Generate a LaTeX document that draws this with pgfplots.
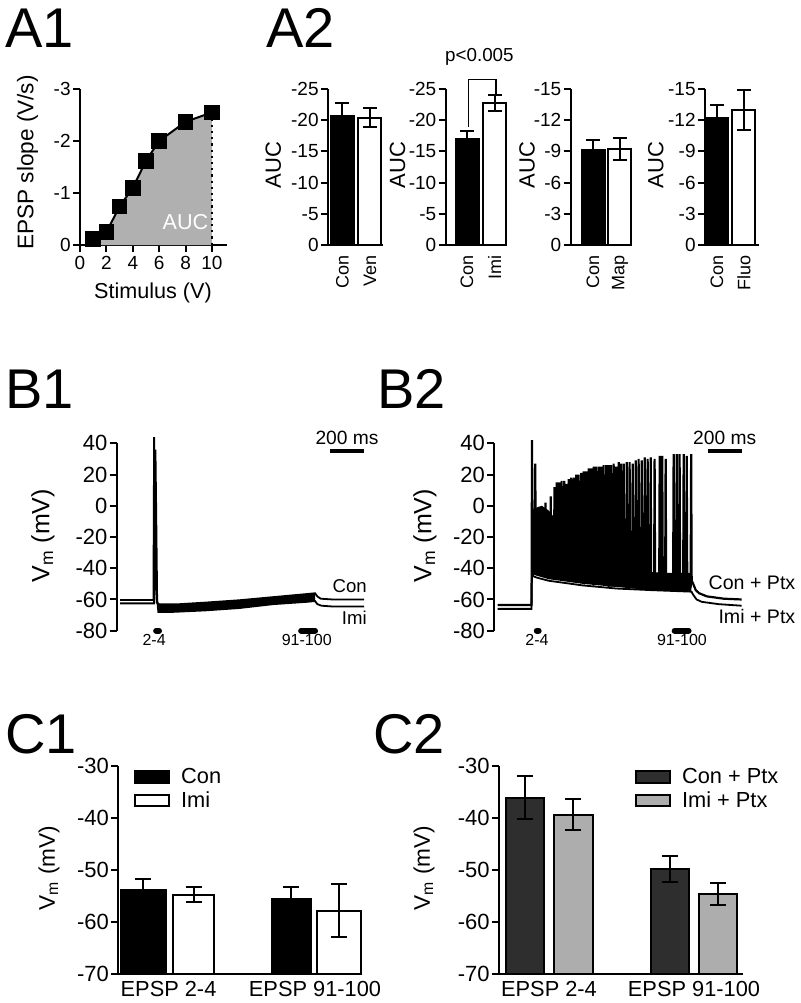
\documentclass[border=0pt]{standalone}
\usepackage{fontspec}
\setmainfont{Liberation Sans}
\usepackage{pgfplots}
\pgfplotsset{compat=1.18}
\pgfplotsset{
  base/.style={scale only axis, clip=false, anchor=south west,
    axis line style={line width=1pt,-}, tick style={line width=1pt, black},
    tick align=outside, major tick length=3.5pt,
    yticklabel style={inner sep=1pt},
    /pgf/number format/assume math mode=true},
  blackbar/.style={ybar, bar width=11.5pt, bar shift=0pt, fill=black, draw=black, line width=1pt,
    error bars/.cd, y dir=both, y explicit, error bar style={line width=1pt,black},
    error mark options={rotate=90, mark size=3.5pt, line width=1pt, black}},
  whitebar/.style={ybar, bar width=11.5pt, bar shift=0pt, fill=white, draw=black, line width=1pt,
    error bars/.cd, y dir=both, y explicit, error bar style={line width=1pt,black},
    error mark options={rotate=90, mark size=3.5pt, line width=1pt, black}},
  errs/.style={draw=none, mark=none, forget plot,
    error bars/.cd, y dir=both, y explicit, error bar style={draw=black, line width=1pt},
    error mark options={rotate=90, mark size=4pt, line width=1pt, draw=black}},
  aaxis/.style={base, height=78pt, axis x line*=bottom, axis y line*=left, y dir=reverse,
    ymax=0, xtick={1,2}, xtick style={draw=none},
    xticklabel style={rotate=90, anchor=east, inner sep=1.5pt, font=\fontsize{9}{10}\selectfont},
    yticklabel style={font=\fontsize{9.5}{11}\selectfont}},
  baxis/.style={base, width=124.1pt, height=93.7pt, axis x line=none, axis y line*=left,
    xmin=-20, xmax=1440, ymin=-80, ymax=40, ytick={-80,-60,...,40},
    yticklabel style={font=\fontsize{11}{12}\selectfont}},
  caxis/.style={base, height=104.3pt, axis x line*=bottom, axis y line*=left,
    ymin=-70, ymax=-30, ytick={-70,-60,...,-30}, xtick={1,2},
    xticklabels={EPSP 2-4, EPSP 91-100}, xtick style={draw=none},
    xticklabel style={font=\fontsize{10.9}{12}\selectfont, yshift=3.5pt},
    yticklabel style={font=\fontsize{11}{12}\selectfont},
    legend image code/.code={\draw[#1, line width=1pt] (0pt,-5.5pt) rectangle (21.5pt,5.5pt);},
    legend style={draw=none, fill=none, anchor=north west, inner sep=0pt, outer sep=0pt,
      row sep=2.5pt, nodes={inner sep=0pt, anchor=west}, font=\fontsize{10.9}{12}\selectfont,
      /tikz/every odd column/.append style={column sep=5.5pt}}},
}
\begin{document}
\begin{tikzpicture}
\path[use as bounding box] (0,0) rectangle (400pt,-501.5pt);

\begin{scope}[every node/.style={inner sep=0pt, anchor=base west, font=\fontsize{28}{30}\selectfont}]
\node at (2.5pt,-23.5pt) {A1};
\node at (133pt,-23.5pt) {A2};
\node at (2.5pt,-204pt) {B1};
\node at (188.5pt,-204pt) {B2};
\node at (2.5pt,-376.5pt) {C1};
\node at (186.5pt,-376.5pt) {C2};
\end{scope}

% axis labels
\node[rotate=90, font=\fontsize{11.3}{13}\selectfont] at (13.75pt,-81.25pt) {EPSP slope (V/s)};
\node[font=\fontsize{10.8}{13}\selectfont] at (76.5pt,-146.5pt) {Stimulus (V)};
\begin{scope}[every node/.style={rotate=90, font=\fontsize{11}{13}\selectfont}]
\node at (136.65pt,-82.5pt) {AUC};
\node at (198.75pt,-82.5pt) {AUC};
\node at (263.5pt,-82.5pt) {AUC};
\node at (327.85pt,-82.5pt) {AUC};
\end{scope}
\node[rotate=90, font=\fontsize{12.5}{14}\selectfont] at (21.5pt,-267.9pt) {V\textsubscript{m} (mV)};
\node[rotate=90, font=\fontsize{12.5}{14}\selectfont] at (212.5pt,-267.9pt) {V\textsubscript{m} (mV)};
\node[rotate=90, font=\fontsize{11.3}{13}\selectfont] at (24.5pt,-434pt) {V\textsubscript{m} (mV)};
\node[rotate=90, font=\fontsize{11.3}{13}\selectfont] at (212pt,-434pt) {V\textsubscript{m} (mV)};

% ---------------- A1
\begin{axis}[base, at={(40pt,-122.5pt)}, width=73.25pt, height=78pt,
  axis x line*=bottom, axis y line*=left, y dir=reverse,
  xmin=0, xmax=11.1, ymin=-3, ymax=0,
  xtick={0,2,4,6,8,10}, ytick={-3,-2,-1,0},
  xticklabel style={inner sep=2pt},
  tick label style={font=\fontsize{9.5}{11}\selectfont}]
\addplot[fill=black!31, draw=none] coordinates {(1,0) (1,-0.11) (2,-0.25) (3,-0.74) (4,-1.1) (5,-1.62) (6,-2.0) (8,-2.37) (10,-2.55) (10,0)} -- cycle;
\addplot[black, line width=1.1pt, dotted] coordinates {(10,-2.55) (10,0)};
\addplot[black, line width=1pt, mark=square*, mark size=3.4pt] coordinates {(1,-0.11) (2,-0.25) (3,-0.74) (4,-1.1) (5,-1.62) (6,-2.0) (8,-2.37) (10,-2.55)};
\node[white, font=\fontsize{10.8}{12}\selectfont] at (axis cs:7.99,-0.45) {AUC};
\end{axis}

% ---------------- A2 panels
\begin{axis}[aaxis, at={(164pt,-122.5pt)}, width=27.5pt, xmin=0.473, xmax=2.473,
  ymin=-25, ytick={-25,-20,...,0}, xticklabels={Con,Ven}]
\addplot[blackbar] coordinates {(1,-20.7) +- (0,2.0)};
\addplot[whitebar] coordinates {(2,-20.4) +- (0,1.5)};
\end{axis}

\begin{axis}[aaxis, at={(222.85pt,-122.5pt)}, width=30.66pt, xmin=0.225, xmax=2.455,
  ymin=-25, ytick={-25,-20,...,0}, xticklabels={Con,Imi}]
\addplot[blackbar] coordinates {(1,-17.0) +- (0,1.3)};
\addplot[whitebar] coordinates {(2,-22.7) +- (0,1.3)};
\draw[line width=0.8pt] (axis cs:1.05,-18.9) |- (axis cs:2.05,-26.55) -- (axis cs:2.05,-24.1);
\node[font=\fontsize{9.4}{11}\selectfont] at (axis cs:1.45,-30.1) {p<0.005};
\end{axis}

\begin{axis}[aaxis, at={(285.35pt,-122.5pt)}, width=30.45pt, xmin=0.174, xmax=2.43,
  ymin=-15, ytick={-15,-12,...,0}, xticklabels={Con,Map}]
\addplot[blackbar] coordinates {(1,-9.1) +- (0,1.0)};
\addplot[whitebar] coordinates {(2,-9.2) +- (0,1.05)};
\end{axis}

\begin{axis}[aaxis, at={(352.5pt,-122.5pt)}, width=27pt, xmin=0.556, xmax=2.556,
  ymin=-15, ytick={-15,-12,...,0}, xticklabels={Con,Fluo}]
\addplot[blackbar] coordinates {(1,-12.2) +- (0,1.25)};
\addplot[whitebar] coordinates {(2,-13.0) +- (0,1.9)};
\end{axis}

% ---------------- B1
\begin{axis}[baxis, at={(58.35pt,-315.35pt)}]
\addplot[fill=black, draw=none] coordinates {(216,-62) (230,-63) (350,-63) (500,-62) (700,-60.5) (900,-58.5) (1100,-56.5) (1147,-56) (1147,-61) (1100,-61.5) (900,-63) (700,-65.5) (500,-67) (300,-68) (225,-68)} -- cycle;
\addplot[black, line width=0.9pt] coordinates {(0,-60.3) (196,-60.3) (200,44) (204,10) (210,-50) (216,-62) (230,-63) (350,-63) (500,-62) (700,-60.5) (900,-58.5) (1100,-56.5) (1147,-56) (1160,-58) (1180,-59.5) (1250,-60) (1435,-60)};
\addplot[black, line width=0.9pt] coordinates {(0,-62.5) (200,-62.5) (208,36) (212,0) (218,-60) (225,-68) (300,-68) (500,-67) (700,-65.5) (900,-63) (1100,-61.5) (1147,-61) (1160,-63) (1185,-64) (1250,-64.5) (1435,-64.5)};
\draw[line width=3pt, line cap=round] (axis cs:212,-80) -- (axis cs:229,-80);
\draw[line width=3pt, line cap=round] (axis cs:1065,-80) -- (axis cs:1147,-80);
\node[font=\fontsize{8}{9}\selectfont] at (axis cs:200,-86) {2-4};
\node[font=\fontsize{8}{9}\selectfont] at (axis cs:1098,-86) {91-100};
\draw[line width=2pt] (axis cs:1235,35) -- (axis cs:1435,35);
\node[font=\fontsize{9.6}{11}\selectfont, anchor=south, inner sep=1pt] at (axis cs:1335,37.5) {200 ms};
\node[font=\fontsize{9.3}{11}\selectfont, anchor=east, inner sep=0pt] at (axis cs:1453,-51.4) {Con};
\node[font=\fontsize{9.3}{11}\selectfont, anchor=east, inner sep=0pt] at (axis cs:1453,-71.8) {Imi};
\end{axis}

% ---------------- B2
\begin{axis}[baxis, at={(247.15pt,-315.35pt)}]
\addplot[fill=black, draw=none] coordinates {(205,-2) (260,0) (300,-3) (350,-10) (400,-20) (450,-28) (500,-34) (600,-39) (800,-42) (1000,-43) (1140,-43) (1140,-55) (900,-54) (700,-52) (500,-50) (300,-47) (205,-44)} -- cycle;
\addplot[black, line width=0.9pt] coordinates {(0,-66) (199,-66) (203,-30) (207,-45) (230,-46) (300,-48) (500,-51) (700,-53) (900,-54) (1140,-55) (1150,-57) (1170,-60) (1200,-61.5) (1300,-63) (1435,-64)};
\addplot[black, line width=1.1pt] coordinates {
(0,-63.5) (199,-63.5) (202,42) (205,-42)
(218,-42) (221,27) (224,-42)
(278,-42) (281,2) (284,-44)
(309,-44) (312,6) (315,-44)
(331,-44) (334,12) (337,-44)
(344,-45) (347,15) (350,-45)
(359,-45) (362,15) (365,-45)
(373,-46) (376,16) (379,-46)
(388,-46) (391,16) (394,-46)
(403,-46) (406,14) (409,-46)
(415,-47) (418,17) (421,-47)
(429,-47) (432,18) (435,-47)
(444,-47) (447,18) (450,-47)
(459,-48) (462,20) (465,-48)
(473,-48) (476,20) (479,-48)
(488,-48) (491,21) (494,-48)
(503,-49) (506,22) (509,-49)
(518,-49) (521,22) (524,-49)
(532,-49) (535,24) (538,-49)
(547,-49) (550,24) (553,-49)
(562,-50) (565,25) (568,-50)
(576,-50) (579,25) (582,-50)
(591,-50) (594,25) (597,-50)
(606,-50) (609,25) (612,-50)
(620,-50) (623,26) (626,-50)
(635,-50) (638,26) (641,-50)
(650,-51) (653,26) (656,-51)
(664,-51) (667,26) (670,-51)
(679,-51) (682,27) (685,-51)
(694,-51) (697,25) (700,-51)
(709,-51) (712,28) (715,-51)
(723,-51) (726,27) (729,-51)
(738,-51) (741,27) (744,-51)
(756,-52) (759,28) (762,-52)
(773,-52) (776,28) (779,-52)
(791,-52) (794,27) (797,-52)
(809,-52) (812,29) (815,-52)
(826,-52) (829,30) (832,-52)
(844,-52) (847,29) (850,-52)
(862,-52) (865,31) (868,-52)
(879,-52) (882,30) (885,-52)
(897,-52) (900,31) (903,-52)
(920,-52) (923,30) (926,-52)
(950,-52) (953,32) (956,-52)
(965,-52) (968,32) (971,-52)
(985,-52) (988,30) (991,-52)
(1032,-52) (1035,33) (1038,-52)
(1050,-52) (1053,33) (1056,-52)
(1067,-52) (1070,33) (1073,-52)
(1091,-52) (1094,33) (1097,-52)
(1109,-52) (1112,32) (1115,-52)
(1135,-52) (1138,33) (1141,-48)
(1150,-50) (1165,-54) (1185,-56) (1230,-58) (1330,-59.5) (1435,-60)};
\draw[line width=3pt, line cap=round] (axis cs:230,-80) -- (axis cs:241,-80);
\draw[line width=3pt, line cap=round] (axis cs:1041,-80) -- (axis cs:1123,-80);
\node[font=\fontsize{8}{9}\selectfont] at (axis cs:231,-86) {2-4};
\node[font=\fontsize{8}{9}\selectfont] at (axis cs:1084,-86) {91-100};
\draw[line width=2pt] (axis cs:1235,35) -- (axis cs:1435,35);
\node[font=\fontsize{9.6}{11}\selectfont, anchor=south, inner sep=1pt] at (axis cs:1335,37.5) {200 ms};
\node[font=\fontsize{9.8}{11}\selectfont, anchor=east, inner sep=0pt] at (axis cs:1753,-49.6) {Con + Ptx};
\node[font=\fontsize{9.8}{11}\selectfont, anchor=east, inner sep=0pt] at (axis cs:1753,-71) {Imi + Ptx};
\end{axis}

% ---------------- C1
\begin{axis}[caxis, at={(59.15pt,-487.15pt)}, width=121.7pt, xmin=0.657, xmax=2.319,
  legend style={at={(axis description cs:0.0645,0.989)}}]
\addplot[fill=black, draw=black, line width=1pt, area legend] coordinates {(0.674,-70) (0.674,-53.8) (0.981,-53.8) (0.981,-70)} -- cycle;
\addlegendentry{Con}
\addplot[fill=white, draw=black, line width=1pt, area legend] coordinates {(1.033,-70) (1.033,-54.7) (1.311,-54.7) (1.311,-70)} -- cycle;
\addlegendentry{Imi}
\addplot[fill=black, draw=black, line width=1pt, forget plot] coordinates {(1.704,-70) (1.704,-55.6) (1.971,-55.6) (1.971,-70)} -- cycle;
\addplot[fill=white, draw=black, line width=1pt, forget plot] coordinates {(2.012,-70) (2.012,-57.8) (2.314,-57.8) (2.314,-70)} -- cycle;
\addplot[errs] coordinates {(0.8275,-53.8) +- (0,2.1) (1.172,-54.7) +- (0,1.5) (1.8375,-55.6) +- (0,2.4) (2.163,-57.8) +- (0,5.1)};
\end{axis}

% ---------------- C2
\begin{axis}[caxis, at={(249.5pt,-487.15pt)}, width=122pt, xmin=0.655, xmax=2.338,
  legend style={at={(axis description cs:0.557,0.989)}}]
\addplot[fill=black!82, draw=black, line width=1pt, area legend] coordinates {(0.70,-70) (0.70,-36.1) (0.966,-36.1) (0.966,-70)} -- cycle;
\addlegendentry{Con + Ptx}
\addplot[fill=black!32, draw=black, line width=1pt, area legend] coordinates {(1.034,-70) (1.034,-39.4) (1.30,-39.4) (1.30,-70)} -- cycle;
\addlegendentry{Imi + Ptx}
\addplot[fill=black!82, draw=black, line width=1pt, forget plot] coordinates {(1.70,-70) (1.70,-49.8) (1.966,-49.8) (1.966,-70)} -- cycle;
\addplot[fill=black!32, draw=black, line width=1pt, forget plot] coordinates {(2.034,-70) (2.034,-54.6) (2.30,-54.6) (2.30,-70)} -- cycle;
\addplot[errs] coordinates {(0.833,-36.1) +- (0,4.2) (1.167,-39.4) +- (0,3.0) (1.833,-49.8) +- (0,2.5) (2.167,-54.6) +- (0,2.2)};
\end{axis}
\end{tikzpicture}
\end{document}
